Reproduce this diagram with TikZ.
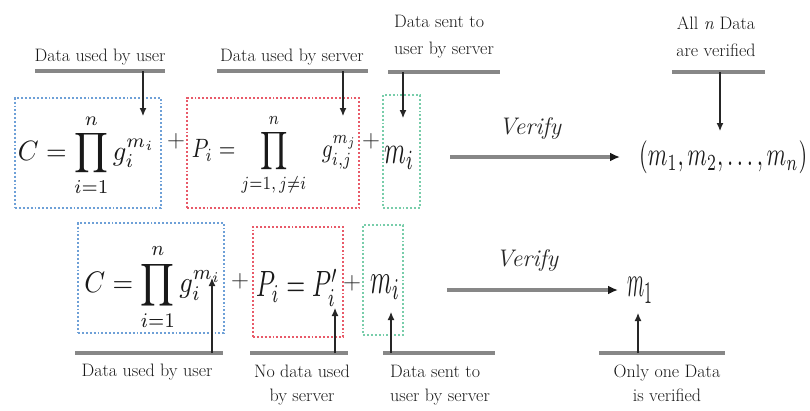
\documentclass[tikz,border=0pt]{standalone}
\usepackage{graphicx}
\usetikzlibrary{arrows.meta}
\definecolor{bboxc}{RGB}{110,160,215}
\definecolor{rboxc}{RGB}{232,90,105}
\definecolor{gboxc}{RGB}{120,205,170}
\definecolor{ulinec}{RGB}{135,135,135}
\definecolor{txtc}{RGB}{25,25,25}
\begin{document}
\begin{tikzpicture}[x=1pt,y=-1pt,
  dbox/.style={draw=#1, dotted, line width=1.9pt, inner sep=0pt},
  eqn/.style={inner sep=0pt, text=black!90},
  lbl/.style={font=\fontsize{18}{27}\selectfont, text=txtc, inner sep=0pt},
  lblb/.style={font=\fontsize{18}{24}\selectfont, text=txtc, inner sep=0pt},
  uln/.style={draw=ulinec, line width=3.2pt},
  ptr/.style={draw=black!85, line width=1.1pt, -{Latex[length=8pt,width=7pt]}},
  vfy/.style={draw=ulinec, line width=3.4pt, -{Latex[length=10pt,width=9pt,color=black!90]}},
  vtxt/.style={font=\fontsize{24}{24}\selectfont\itshape, text=black!85, inner sep=0pt},
  pls/.style={font=\fontsize{26}{26}\selectfont, text=black!85, inner sep=0pt}
]
\useasboundingbox (0,0) rectangle (810,410);

% ---------- top row boxes ----------
\node[dbox=bboxc, minimum width=146pt, minimum height=110pt] (b1) at (88,153) {};
\node[dbox=rboxc, minimum width=172pt, minimum height=110pt] (r1) at (273,153) {};
\node[dbox=gboxc, minimum width=37pt, minimum height=113pt] (g1) at (401.5,151.5) {};

\node[eqn] (e1) at (86.5,155) {\resizebox*{137pt}{82pt}{$\displaystyle C=\prod_{i=1}^{n} g_i^{m_i}$}};
\node[eqn] (e2) at (274.5,155) {\resizebox*{165pt}{82pt}{$\displaystyle P_i=\prod_{j=1,\,j\neq i}^{n}\;\; g_{i,j}^{m_j}$}};
\node[eqn] (e3) at (399,158) {\resizebox*{30pt}{23pt}{$m_i$}};
\node[pls] (p1) at (176,141) {$+$};
\node[pls] (p2) at (371,141) {$+$};

% ---------- bottom row boxes ----------
\node[dbox=bboxc, minimum width=146pt, minimum height=110pt] (b2) at (151,278) {};
\node[dbox=rboxc, minimum width=90pt, minimum height=110pt] (r2) at (298,282) {};
\node[dbox=gboxc, minimum width=40pt, minimum height=110pt] (g2) at (383,280) {};

\node[eqn] (f1) at (153,287) {\resizebox*{137pt}{87pt}{$\displaystyle C=\prod_{i=1}^{n} g_i^{m_i}$}};
\node[eqn] (f2) at (297,288) {\resizebox*{82pt}{37pt}{$P_i=P_i'$}};
\node[eqn] (f3) at (385,287) {\resizebox*{30pt}{25pt}{$m_i$}};
\node[pls] (q1) at (240,281) {$+$};
\node[pls] (q2) at (352,283) {$+$};

% ---------- results ----------
\node[eqn, anchor=west] (res1) at (639,157) {\resizebox*{168pt}{33pt}{$(m_1,m_2,\ldots,m_n)$}};
\node[eqn] (res2) at (640,290) {\resizebox*{26pt}{26pt}{$m_1$}};

\node[vtxt] (v1) at (530,128) {Verify};
\node[vtxt] (v2) at (527,260) {Verify};
\coordinate (v1s) at (450,157);
\coordinate (v1e) at (620,157);
\coordinate (v2s) at (447,290);
\coordinate (v2e) at (618,290);
\draw[vfy] (v1s) -- (v1e);
\draw[vfy] (v2s) -- (v2e);

% ---------- top labels ----------
\node[lbl] (l1) at (100,57) {Data used by user};
\node[lbl] (l2) at (292,57) {Data used by server};
\node[lbl, align=left] (l3) at (444,37) {Data sent to\\user by server};
\node[lbl, align=center] (l4) at (716,37) {All \textit{n} Data\\are verified};

\coordinate (u1a) at (35,71);  \coordinate (u1b) at (165,71);
\coordinate (u2a) at (217,71); \coordinate (u2b) at (368,71);
\coordinate (u3a) at (388,72); \coordinate (u3b) at (500,72);
\coordinate (u4a) at (672,72); \coordinate (u4b) at (765,72);
\draw[uln] (u1a) -- (u1b);
\draw[uln] (u2a) -- (u2b);
\draw[uln] (u3a) -- (u3b);
\draw[uln] (u4a) -- (u4b);

\coordinate (a1s) at (143,71);  \coordinate (a1e) at (143,116);
\coordinate (a2s) at (343,71);  \coordinate (a2e) at (343,116);
\coordinate (a3s) at (403,72);  \coordinate (a3e) at (403,118);
\coordinate (a4s) at (720,72);  \coordinate (a4e) at (720,131);
\draw[ptr] (a1s) -- (a1e);
\draw[ptr] (a2s) -- (a2e);
\draw[ptr] (a3s) -- (a3e);
\draw[ptr] (a4s) -- (a4e);

% ---------- bottom labels ----------
\node[lblb] (m1) at (147,372) {Data used by user};
\node[lblb, align=center] (m2) at (302,385) {No data used\\by server};
\node[lblb, align=left] (m3) at (440,385) {Data sent to\\user by server};
\node[lblb, align=center] (m4) at (667,383) {Only one Data\\is verified};

\coordinate (w1a) at (75,353);  \coordinate (w1b) at (223,353);
\coordinate (w2a) at (250,353); \coordinate (w2b) at (348,353);
\coordinate (w3a) at (383,353); \coordinate (w3b) at (495,353);
\coordinate (w4a) at (599,353); \coordinate (w4b) at (725,353);
\draw[uln] (w1a) -- (w1b);
\draw[uln] (w2a) -- (w2b);
\draw[uln] (w3a) -- (w3b);
\draw[uln] (w4a) -- (w4b);

\coordinate (c1s) at (212,353); \coordinate (c1e) at (212,278);
\coordinate (c2s) at (335,353); \coordinate (c2e) at (335,308);
\coordinate (c3s) at (391,353); \coordinate (c3e) at (391,312);
\coordinate (c4s) at (638,353); \coordinate (c4e) at (638,313);
\draw[ptr] (c1s) -- (c1e);
\draw[ptr] (c2s) -- (c2e);
\draw[ptr] (c3s) -- (c3e);
\draw[ptr] (c4s) -- (c4e);
\end{tikzpicture}
\end{document}
